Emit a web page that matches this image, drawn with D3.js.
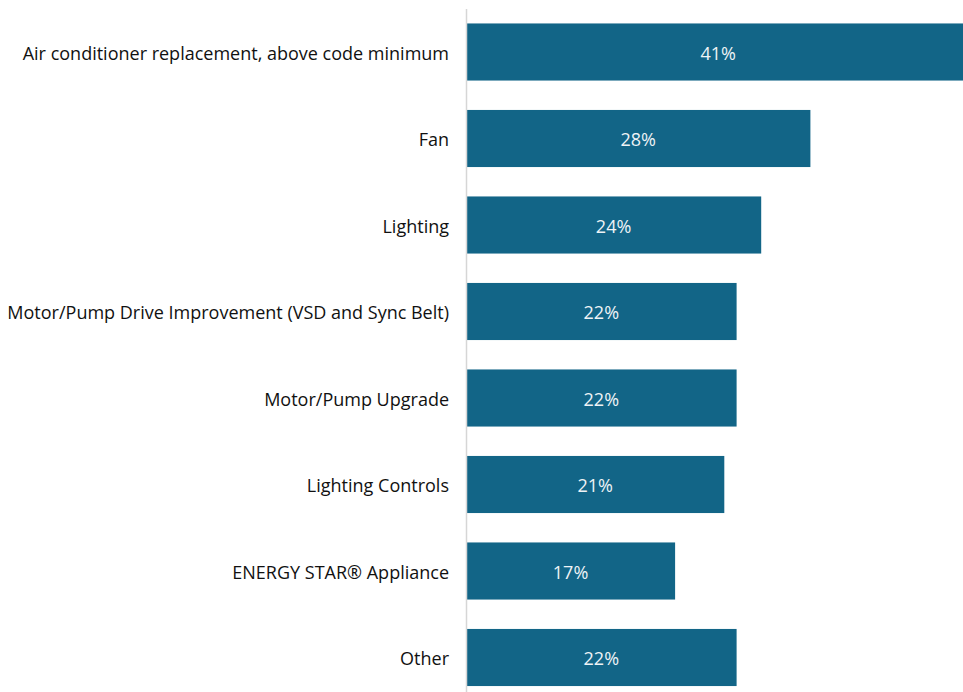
<!DOCTYPE html>
<html>
<head>
<meta charset="utf-8">
<script src="https://cdn.jsdelivr.net/npm/d3@7"></script>
<style>
  html, body { margin: 0; padding: 0; background: #fff; overflow: hidden; }
  svg { display: block; }
</style>
</head>
<body>
<svg id="chart" width="963" height="692"></svg>
<script>
// Measure categories and their shares
const categories = [
  "Air conditioner replacement, above code minimum",
  "Fan",
  "Lighting",
  "Motor/Pump Drive Improvement (VSD and Sync Belt)",
  "Motor/Pump Upgrade",
  "Lighting Controls",
  "ENERGY STAR® Appliance",
  "Other"
];
const shares = [41, 28, 24, 22, 22, 21, 17, 22];

const data = categories.map((c, i) => ({ category: c, value: shares[i] }));

const svg = d3.select("#chart");
const x0 = 466;
const fontStack = "'Open Sans', 'Noto Sans', sans-serif";

// The longest bar runs off the right edge of the plot
const x = d3.scaleLinear()
  .domain([0, 40])
  .range([x0, x0 + 492]);

const y = d3.scaleBand()
  .domain(categories)
  .range([8.75, 700.75])
  .paddingInner(0.34)
  .paddingOuter(0.17);

svg.append("clipPath").attr("id", "plot-clip")
  .append("rect").attr("x", 0).attr("y", 0).attr("width", 963).attr("height", 692);

// Bars
svg.append("g")
  .attr("clip-path", "url(#plot-clip)")
  .selectAll("rect")
  .data(data)
  .join("rect")
  .attr("x", x(0))
  .attr("y", d => y(d.category))
  .attr("width", d => x(d.value) - x(0))
  .attr("height", y.bandwidth())
  .attr("fill", "#126587");

// Value labels centred in each bar
svg.append("g")
  .selectAll("text")
  .data(data)
  .join("text")
  .attr("x", d => (x(0) + x(d.value)) / 2)
  .attr("y", d => y(d.category) + y.bandwidth() / 2)
  .attr("dy", "0.42em")
  .attr("text-anchor", "middle")
  .attr("fill", "#eef3f6")
  .style("font-family", fontStack)
  .style("font-size", "18px")
  .text(d => d.value + "%");

// Category axis
const axis = svg.append("g")
  .attr("transform", `translate(${x0},0)`)
  .call(d3.axisLeft(y).tickSize(0).tickPadding(17));

axis.select(".domain").remove();
axis.append("line")
  .attr("x1", 0.5).attr("x2", 0.5)
  .attr("y1", 9).attr("y2", 692)
  .attr("stroke", "#d6d6d6")
  .attr("stroke-width", 1.5);

axis.selectAll("text")
  .attr("fill", "#111")
  .attr("dy", "0.42em")
  .style("font-family", fontStack)
  .style("font-size", "18px");
</script>
</body>
</html>
